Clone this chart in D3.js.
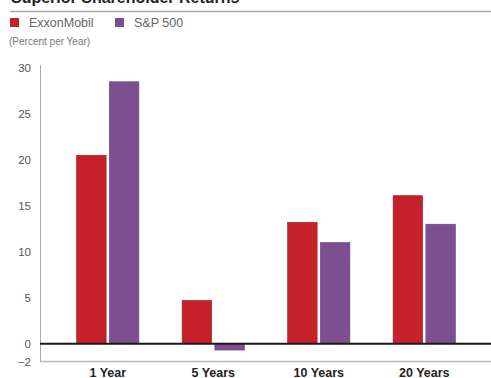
<!DOCTYPE html>
<html>
<head>
<meta charset="utf-8">
<script src="https://cdn.jsdelivr.net/npm/d3@7"></script>
<style>
  html, body { margin: 0; padding: 0; background: #fff; }
  svg { display: block; font-family: "Liberation Sans", Arial, Helvetica, sans-serif; }
</style>
</head>
<body>
<svg id="chart" width="491" height="378"></svg>
<script>
// Annual shareholder returns, percent per year
const periods = ["1 Year", "5 Years", "10 Years", "20 Years"];
const seriesNames = ["ExxonMobil", "S&P 500"];
const exxonMobil = [20.5, 4.7, 13.2, 16.1];
const sp500 = [28.5, -0.7, 11.0, 13.0];
const yTicks = [-2, 0, 5, 10, 15, 20, 25, 30];
const colors = ["#c6202b", "#7d4f92"];
const strokes = ["#9e1a22", "#634075"];

const svg = d3.select("#chart");
const W = 491;

const rows = periods.map((p, i) => ({ period: p, values: [exxonMobil[i], sp500[i]] }));

// Title (sits at the very top edge) and rule
svg.append("text")
  .attr("x", 11).attr("y", 3)
  .attr("font-size", 16).attr("font-weight", "bold").attr("fill", "#222")
  .text("Superior Shareholder Returns");
svg.append("line")
  .attr("x1", 10).attr("x2", W).attr("y1", 11.5).attr("y2", 11.5)
  .attr("stroke", "#aaa").attr("stroke-width", 1.5);

// Legend
const legendX = [10, 115];
seriesNames.forEach((name, i) => {
  const g = svg.append("g").attr("transform", `translate(${legendX[i]},18)`);
  g.append("rect").attr("width", 9).attr("height", 9).attr("fill", colors[i]);
  g.append("text").attr("x", 19).attr("y", 9)
    .attr("font-size", 12.5).attr("fill", "#666").text(name);
});
svg.append("text")
  .attr("x", 9).attr("y", 45)
  .attr("font-size", 10).attr("fill", "#777")
  .text("(Percent per Year)");

// Scales
const y = d3.scaleLinear().domain([-2, 30]).range([362, 68]);
const x0 = d3.scaleBand().domain(periods).range([55, 477])
  .paddingInner(0.41).paddingOuter(0.205);
const x1 = d3.scaleBand().domain(d3.range(seriesNames.length))
  .range([0, x0.bandwidth()]).paddingInner(0.1);

// Y axis
const yAxis = d3.axisLeft(y).tickValues(yTicks).tickSize(0).tickPadding(9)
  .tickFormat(d => d < 0 ? "\u2212" + Math.abs(d) : d);
const ya = svg.append("g").attr("transform", "translate(40,0)").call(yAxis);
ya.select(".domain").remove();
ya.selectAll("text").attr("font-size", 11.5).attr("fill", "#555")
  .attr("font-family", "Liberation Sans, Arial, sans-serif");

svg.append("line")
  .attr("x1", 40.5).attr("x2", 40.5).attr("y1", 65).attr("y2", y(-2))
  .attr("stroke", "#aaa").attr("stroke-width", 1);
svg.append("line")
  .attr("x1", 40).attr("x2", W).attr("y1", y(-2) - 0.5).attr("y2", y(-2) - 0.5)
  .attr("stroke", "#bbb").attr("stroke-width", 1.5);

// Bars
const groups = svg.append("g").selectAll("g").data(rows).join("g")
  .attr("transform", d => `translate(${x0(d.period)},0)`);
groups.selectAll("rect").data(d => d.values.map((v, i) => ({ v, i }))).join("rect")
  .attr("x", d => x1(d.i))
  .attr("width", x1.bandwidth())
  .attr("y", d => y(Math.max(0, d.v)))
  .attr("height", d => Math.abs(y(d.v) - y(0)))
  .attr("fill", d => colors[d.i])
  .attr("stroke", d => strokes[d.i])
  .attr("stroke-width", 0.6);

// Zero line
svg.append("line")
  .attr("x1", 40).attr("x2", W).attr("y1", y(0)).attr("y2", y(0))
  .attr("stroke", "#1a1a1a").attr("stroke-width", 2);

// Category labels
const xAxis = d3.axisBottom(x0).tickSize(0).tickPadding(0);
const xa = svg.append("g").attr("transform", "translate(0,377)").call(xAxis);
xa.select(".domain").remove();
xa.selectAll("text")
  .attr("dy", 0)
  .attr("font-size", 12.5).attr("font-weight", "bold").attr("fill", "#222")
  .attr("font-family", "Liberation Sans, Arial, sans-serif");
</script>
</body>
</html>
